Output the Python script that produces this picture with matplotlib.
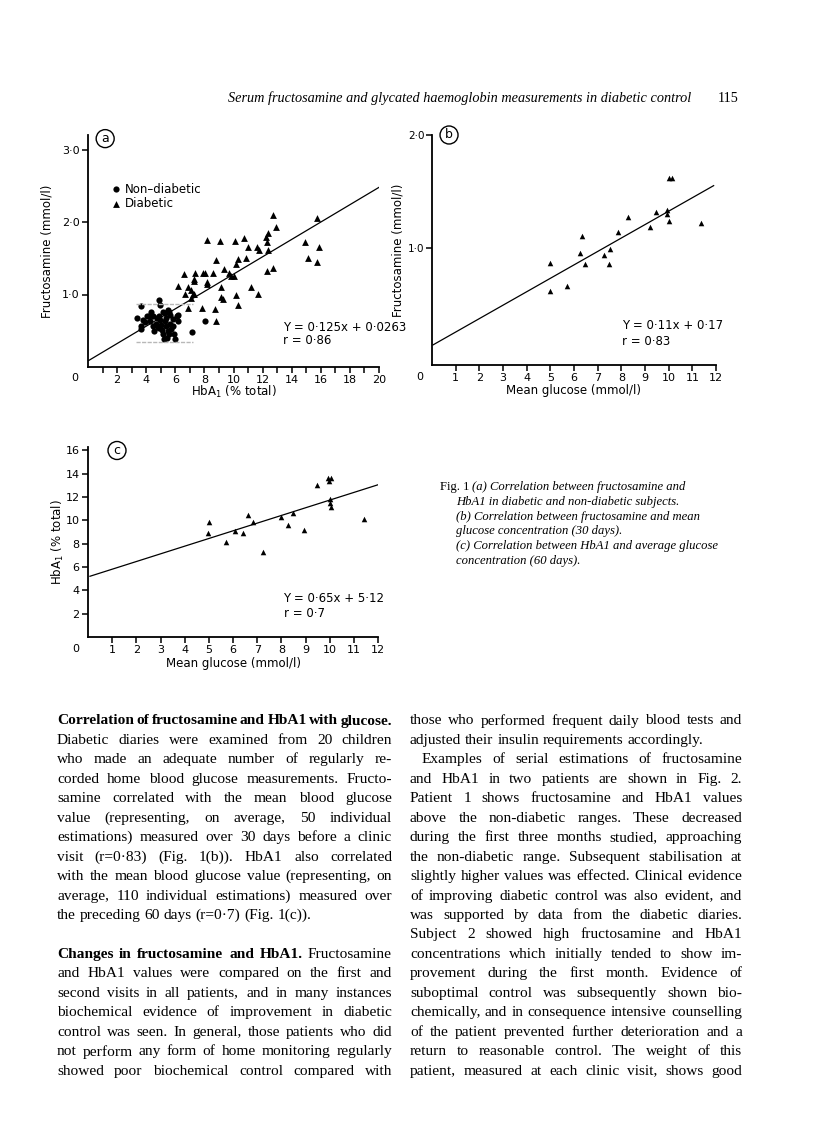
import matplotlib
matplotlib.use("Agg")
import matplotlib.pyplot as plt

# page size in pixels (saved at 100 dpi)
W, H = 816, 1135

# ---- panel (a): fructosamine vs HbA1 ----
a_non_x = [3.67, 4.91, 4.93, 3.37, 3.65, 3.65, 4.07, 4.23, 4.50, 4.52, 4.73, 4.91,
           5.03, 5.10, 5.14, 5.19, 5.26, 5.33, 5.37, 5.49, 5.56, 5.64, 5.72, 5.83,
           5.94, 6.01, 6.10, 6.17, 6.20, 4.34, 4.18, 4.64, 4.80, 4.96, 3.77, 3.90,
           5.14, 5.26, 5.60, 5.42, 4.91, 4.45, 5.67, 7.14, 8.06, 5.83, 5.49]
a_non_y = [0.84, 0.93, 0.86, 0.67, 0.57, 0.53, 0.70, 0.63, 0.71, 0.49, 0.67, 0.71,
           0.58, 0.51, 0.45, 0.39, 0.63, 0.56, 0.68, 0.49, 0.76, 0.60, 0.53, 0.66,
           0.45, 0.39, 0.70, 0.72, 0.64, 0.76, 0.70, 0.60, 0.55, 0.65, 0.65, 0.62,
           0.76, 0.74, 0.45, 0.40, 0.54, 0.56, 0.72, 0.48, 0.64, 0.56, 0.79]
a_dia_x = [12.73, 15.71, 12.92, 12.34, 12.23, 8.19, 9.04, 10.07, 10.71, 12.27,
           14.94, 10.97, 11.61, 11.73, 12.36, 15.85, 15.14, 10.32, 8.79, 10.88,
           10.16, 15.73, 12.73, 12.32, 9.34, 6.63, 7.32, 7.92, 8.05, 8.58,
           9.66, 9.82, 10.00, 7.26, 7.30, 8.17, 8.19, 6.20, 6.90, 9.15,
           11.17, 7.09, 6.66, 7.23, 7.30, 11.66, 7.11, 9.15, 9.31, 10.19,
           10.34, 7.82, 8.72, 6.88, 8.81]
a_dia_y = [2.10, 2.06, 1.93, 1.85, 1.80, 1.75, 1.74, 1.74, 1.78, 1.73,
           1.73, 1.65, 1.65, 1.61, 1.62, 1.65, 1.50, 1.49, 1.48, 1.50,
           1.42, 1.45, 1.37, 1.32, 1.35, 1.28, 1.30, 1.30, 1.30, 1.30,
           1.29, 1.26, 1.25, 1.21, 1.18, 1.17, 1.15, 1.12, 1.10, 1.11,
           1.11, 1.06, 1.01, 1.01, 1.01, 1.01, 0.95, 0.96, 0.94, 0.99,
           0.86, 0.81, 0.80, 0.81, 0.64]
a_fit_x = [0.05, 20.1]
a_fit_y = [0.09, 2.49]
a_range_x = [3.3, 7.25]          # non-diabetic reference range box
a_range_y = [0.34, 0.87]
a_xticks = [2, 4, 6, 8, 10, 12, 14, 16, 18, 20]
a_yticks = [1.0, 2.0, 3.0]

# ---- panel (b): fructosamine vs mean glucose ----
b_x = [4.98, 5.00, 5.69, 6.25, 6.34, 6.48, 7.27, 7.50, 7.47, 7.85,
       8.29, 9.22, 9.46, 9.91, 9.94, 10.03, 10.01, 10.14, 11.36]
b_y = [0.87, 0.62, 0.67, 0.96, 1.11, 0.86, 0.94, 0.99, 0.86, 1.14,
       1.28, 1.19, 1.32, 1.34, 1.30, 1.24, 1.62, 1.62, 1.22]
b_fit_x = [0.04, 11.9]
b_fit_y = [0.147, 1.553]
b_xticks = list(range(1, 13))
b_yticks = [1.0, 2.0]

# ---- panel (c): HbA1 vs mean glucose ----
c_x = [4.99, 4.98, 5.69, 6.08, 6.41, 6.64, 6.84, 7.24, 7.99, 8.29,
       8.50, 8.93, 9.49, 9.93, 10.05, 9.99, 10.00, 10.01, 10.04, 11.42]
c_y = [9.90, 8.89, 8.17, 9.12, 8.93, 10.43, 9.88, 7.33, 10.33, 9.63,
       10.63, 9.21, 13.03, 13.68, 13.68, 13.40, 11.86, 11.50, 11.19, 10.10]
c_fit_x = [0.08, 12.0]
c_fit_y = [5.21, 13.06]
c_xticks = list(range(1, 13))
c_yticks = [2, 4, 6, 8, 10, 12, 14, 16]

header = "Serum fructosamine and glycated haemoglobin measurements in diabetic control"
page_no = "115"

caption = [
    ("Fig. 1", "(a) Correlation between fructosamine and"),
    ("", "HbA1 in diabetic and non-diabetic subjects."),
    ("", "(b) Correlation between fructosamine and mean"),
    ("", "glucose concentration (30 days)."),
    ("", "(c) Correlation between HbA1 and average glucose"),
    ("", "concentration (60 days)."),
]

# (text, number of bold words, justify, indent)
left_col = [
    ("Correlation of fructosamine and HbA1 with glucose.", 7, True, 0),
    ("Diabetic diaries were examined from 20 children", 0, True, 0),
    ("who made an adequate number of regularly re-", 0, True, 0),
    ("corded home blood glucose measurements. Fructo-", 0, True, 0),
    ("samine correlated with the mean blood glucose", 0, True, 0),
    ("value (representing, on average, 50 individual", 0, True, 0),
    ("estimations) measured over 30 days before a clinic", 0, True, 0),
    ("visit (r=0\u00b783) (Fig. 1(b)). HbA1 also correlated", 0, True, 0),
    ("with the mean blood glucose value (representing, on", 0, True, 0),
    ("average, 110 individual estimations) measured over", 0, True, 0),
    ("the preceding 60 days (r=0\u00b77) (Fig. 1(c)).", 0, False, 0),
    ("", 0, False, 0),
    ("Changes in fructosamine and HbA1. Fructosamine", 5, True, 0),
    ("and HbA1 values were compared on the first and", 0, True, 0),
    ("second visits in all patients, and in many instances", 0, True, 0),
    ("biochemical evidence of improvement in diabetic", 0, True, 0),
    ("control was seen. In general, those patients who did", 0, True, 0),
    ("not perform any form of home monitoring regularly", 0, True, 0),
    ("showed poor biochemical control compared with", 0, True, 0),
]
right_col = [
    ("those who performed frequent daily blood tests and", 0, True, 0),
    ("adjusted their insulin requirements accordingly.", 0, False, 0),
    ("Examples of serial estimations of fructosamine", 0, True, 12),
    ("and HbA1 in two patients are shown in Fig. 2.", 0, True, 0),
    ("Patient 1 shows fructosamine and HbA1 values", 0, True, 0),
    ("above the non-diabetic ranges. These decreased", 0, True, 0),
    ("during the first three months studied, approaching", 0, True, 0),
    ("the non-diabetic range. Subsequent stabilisation at", 0, True, 0),
    ("slightly higher values was effected. Clinical evidence", 0, True, 0),
    ("of improving diabetic control was also evident, and", 0, True, 0),
    ("was supported by data from the diabetic diaries.", 0, True, 0),
    ("Subject 2 showed high fructosamine and HbA1", 0, True, 0),
    ("concentrations which initially tended to show im-", 0, True, 0),
    ("provement during the first month. Evidence of", 0, True, 0),
    ("suboptimal control was subsequently shown bio-", 0, True, 0),
    ("chemically, and in consequence intensive counselling", 0, True, 0),
    ("of the patient prevented further deterioration and a", 0, True, 0),
    ("return to reasonable control. The weight of this", 0, True, 0),
    ("patient, measured at each clinic visit, shows good", 0, True, 0),
]

SANS = "DejaVu Sans"
SERIF = "Liberation Serif"

fig = plt.figure(figsize=(W / 100, H / 100), dpi=100)
fig.patch.set_facecolor("white")
rend = fig.canvas.get_renderer()


def fx(px):
    return px / W


def fy(py):
    return 1 - py / H


def add_ax(left, top, right, bottom):
    return fig.add_axes([fx(left), fy(bottom), (right - left) / W, (bottom - top) / H])


def dotted(v):
    return f"{v:.1f}".replace(".", "\u00b7")


def style(ax):
    for s in ("top", "right"):
        ax.spines[s].set_visible(False)
    for s in ("left", "bottom"):
        ax.spines[s].set_linewidth(1.3)
    ax.tick_params(which="both", direction="out", length=4, width=1.1, pad=2,
                   labelsize=8)
    ax.patch.set_alpha(0)


def labels(ax, xl, yl, xoff, yoff):
    # axis titles, centred at given axes-fraction offsets
    ax.set_xlabel(xl, fontsize=8.5, family=SANS)
    ax.xaxis.set_label_coords(0.5, xoff)
    ax.xaxis.label.set_va("center")
    ax.set_ylabel(yl, fontsize=8.5, family=SANS)
    ax.yaxis.set_label_coords(yoff, 0.5)
    ax.yaxis.label.set_va("center")


def origin(ax, dx, dy):
    ax.annotate("0", xy=(0, 0), xycoords="axes fraction", xytext=(dx, dy),
                textcoords="offset pixels", ha="center", va="center",
                fontsize=8, family=SANS)


def tag(ax, x, y, s):
    ax.text(x, y, s, ha="center", va="center", fontsize=9, family=SANS,
            clip_on=False,
            bbox=dict(boxstyle="circle,pad=0.2", fc="white", ec="black", lw=1))


def text_w(s, **kw):
    t = fig.text(0, 0, s, **kw)
    w = t.get_window_extent(rend).width
    t.remove()
    return w


# ------------------------------------------------------------ panel (a)
ax = add_ax(88, 135, 379, 367)
style(ax)
ax.set_xlim(0, 20)
ax.set_ylim(0, 3.2)
ax.plot(a_fit_x, a_fit_y, color="black", lw=0.9)
for yv in a_range_y:
    ax.plot(a_range_x, [yv, yv], color="0.72", lw=1, ls=(0, (3, 1)))
ax.scatter(a_non_x, a_non_y, marker="o", s=20, color="black", lw=0,
           label="Non\u2013diabetic")
ax.scatter(a_dia_x, a_dia_y, marker="^", s=24, color="black", lw=0,
           label="Diabetic")
ax.set_xticks(a_xticks)
ax.set_xticks([v - 1 for v in a_xticks], minor=True)
ax.set_yticks(a_yticks)
ax.set_yticklabels([dotted(v) for v in a_yticks])
labels(ax, "HbA$_1$ (% total)", "Fructosamine (mmol/l)", -0.108, -0.14)
origin(ax, -13, -11)
tag(ax, 1.18, 3.15, "a")
ax.legend(loc="upper left", bbox_to_anchor=(0.085, 0.795), frameon=False,
          handlelength=0.6, handletextpad=0.4, borderpad=0, borderaxespad=0,
          labelspacing=0.15, prop={"family": SANS, "size": 8.5})
ax.text(13.4, 0.54, "Y = 0\u00b7125x + 0\u00b70263", fontsize=8.5, family=SANS,
        va="center")
ax.text(13.4, 0.36, "r = 0\u00b786", fontsize=8.5, family=SANS, va="center")

# ------------------------------------------------------------ panel (b)
ax = add_ax(432, 135, 716, 365)
style(ax)
ax.set_xlim(0, 12)
ax.set_ylim(-0.03, 2.0)
ax.plot(b_fit_x, b_fit_y, color="black", lw=0.9)
ax.scatter(b_x, b_y, marker="^", s=16, color="black", lw=0)
ax.set_xticks(b_xticks)
ax.set_yticks(b_yticks)
ax.set_yticklabels([dotted(v) for v in b_yticks])
ax.tick_params(axis="y", labelsize=7.5, pad=1.5)
labels(ax, "Mean glucose (mmol/l)", "Fructosamine (mmol/l)", -0.113, -0.118)
origin(ax, -12, -12)
tag(ax, 0.72, 2.0, "b")
ax.text(8.03, 0.32, "Y = 0\u00b711x + 0\u00b717", fontsize=8.5, family=SANS,
        va="center")
ax.text(8.03, 0.175, "r = 0\u00b783", fontsize=8.5, family=SANS, va="center")

# ------------------------------------------------------------ panel (c)
ax = add_ax(88, 447, 378, 637)
style(ax)
ax.set_xlim(0, 12)
ax.set_ylim(0, 16.3)
ax.plot(c_fit_x, c_fit_y, color="black", lw=0.9)
ax.scatter(c_x, c_y, marker="^", s=16, color="black", lw=0)
ax.set_xticks(c_xticks)
ax.set_yticks(c_yticks)
labels(ax, "Mean glucose (mmol/l)", "HbA$_1$ (% total)", -0.137, -0.105)
origin(ax, -12, -12)
tag(ax, 1.2, 16.0, "c")
ax.text(8.09, 3.26, "Y = 0\u00b765x + 5\u00b712", fontsize=8.5, family=SANS,
        va="center")
ax.text(8.09, 2.0, "r = 0\u00b77", fontsize=8.5, family=SANS, va="center")

# ------------------------------------------------------------ running head
hsize = 10 * 464 / text_w(header, family=SERIF, style="italic", fontsize=10)
fig.text(fx(228), fy(98), header, family=SERIF, style="italic", fontsize=hsize,
         va="center")
fig.text(fx(718), fy(98), page_no, family=SERIF, fontsize=hsize, va="center")

# ------------------------------------------------------------ caption
csize = 10 * 213 / text_w(caption[0][1], family=SERIF, style="italic", fontsize=10)
for i, (lead, txt) in enumerate(caption):
    yy = 487 + 14.8 * i
    if lead:
        fig.text(fx(440), fy(yy), lead, family=SERIF, fontsize=csize, va="center")
        fig.text(fx(472), fy(yy), txt, family=SERIF, style="italic",
                 fontsize=csize, va="center")
    else:
        fig.text(fx(456), fy(yy), txt, family=SERIF, style="italic",
                 fontsize=csize, va="center")

# ------------------------------------------------------------ body text
# largest size at which every justified line still fits its column
COLS = [(57, 392, left_col), (410, 742, right_col)]
ratio = 0
for x0, x1, lines in COLS:
    for txt, nb, just, ind in lines:
        if txt:
            w = text_w(txt, family=SERIF, fontsize=10)
            ratio = max(ratio, w / (x1 - x0 - ind))
bsize = 10 / ratio * 0.995


def put_line(x0, x1, y, text, nbold, justify, indent):
    words = text.split()
    if not words:
        return
    objs = []
    for i, w in enumerate(words):
        objs.append(fig.text(0, fy(y), w, family=SERIF, fontsize=bsize,
                             fontweight="bold" if i < nbold else "normal",
                             va="center", ha="left"))
    widths = [t.get_window_extent(rend).width for t in objs]
    gap = bsize * 100 / 72 * 0.25
    if justify and len(words) > 1:
        gap = (x1 - x0 - indent - sum(widths)) / (len(words) - 1)
    x = x0 + indent
    for t, w in zip(objs, widths):
        t.set_x(fx(x))
        x += w + gap


for x0, x1, lines in COLS:
    for i, (txt, nb, just, ind) in enumerate(lines):
        put_line(x0, x1, 721 + 19.45 * i, txt, nb, just, ind)

fig.savefig("out.png", dpi=100, facecolor="white")
